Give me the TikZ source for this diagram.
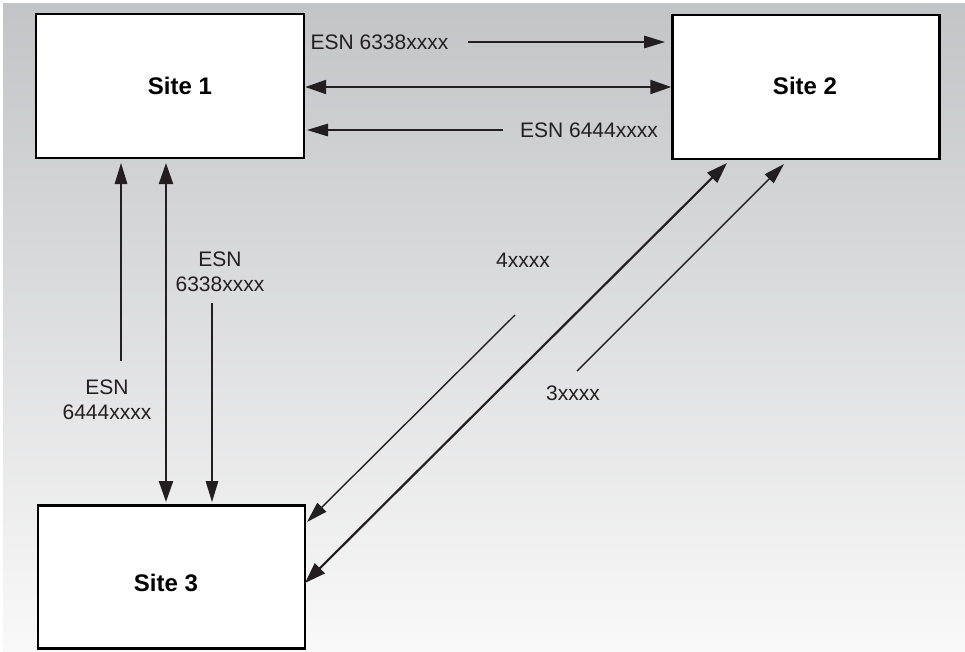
\documentclass[tikz,border=0pt]{standalone}
\usepackage{fontspec}
\setmainfont{Liberation Sans}
\usetikzlibrary{arrows.meta}
\definecolor{ink}{HTML}{231F20}
\definecolor{bgtop}{HTML}{C3C4C7}
\definecolor{bgbot}{HTML}{F9F9F9}
\tikzset{
  site/.style={draw=black, line width=2.4pt, fill=white, inner sep=0pt},
  sitename/.style={font=\fontsize{24}{28}\selectfont\bfseries, inner sep=0pt},
  lbl/.style={text=ink, font=\fontsize{21}{25}\selectfont, inner sep=0pt, align=center},
  thick link/.style={draw=ink, line width=2.2pt, {Triangle[length=21pt,width=14pt]}-{Triangle[length=21pt,width=14pt]}},
  thin link/.style={draw=ink, line width=1.4pt, -{Triangle[length=21pt,width=12.5pt]}},
}
\begin{document}
\begin{tikzpicture}[x=1pt, y=-1pt]
  \useasboundingbox (0,0) rectangle (965,651);
  % shaded backdrop
  \shade[top color=bgtop, bottom color=bgbot] (3,3) rectangle (965,651);

  % sites
  \node[site, minimum width=268pt, minimum height=144pt] (s1) at (170,86) {};
  \node[sitename] at (180,86) {Site 1};
  \node[site, minimum width=267pt, minimum height=144pt] (s2) at (806,87) {};
  \node[sitename] at (805,86) {Site 2};
  \begin{scope}
    \clip (0,0) rectangle (965,651);
    \node[site, minimum width=267pt, minimum height=143pt] (s3) at (171.5,577) {};
  \end{scope}
  \node[sitename] at (166,583) {Site 3};

  % free ends of the one-way links
  \coordinate (h1a) at (468,42);   \coordinate (h1b) at (665,42);
  \coordinate (h3a) at (503,130);  \coordinate (h3b) at (307,130);
  \coordinate (v1a) at (121,361);  \coordinate (v1b) at (121,163);
  \coordinate (v3a) at (212,303);  \coordinate (v3b) at (212,502);
  \coordinate (d1a) at (577,371);  \coordinate (d1b) at (784,164);
  \coordinate (d3a) at (515,315);  \coordinate (d3b) at (307,522);

  % Site 1 <-> Site 2
  \draw[thin link] (h1a) -- (h1b);
  \draw[thick link] (s1.east |- 0,87) -- (s2.west |- 0,87);
  \draw[thin link] (h3a) -- (h3b);
  \node[lbl] at (379.5,42) {ESN 6338xxxx};
  \node[lbl] at (589,130) {ESN 6444xxxx};

  % Site 1 <-> Site 3
  \draw[thin link] (v1a) -- (v1b);
  \draw[thick link] (166,163) -- (166,502);
  \draw[thin link] (v3a) -- (v3b);
  \node[lbl] at (220,272) {ESN\\6338xxxx};
  \node[lbl] at (107,400) {ESN\\6444xxxx};

  % Site 2 <-> Site 3
  \draw[thick link] (727,163) -- (305,583);
  \draw[thin link] (d1a) -- (d1b);
  \draw[thin link] (d3a) -- (d3b);
  \node[lbl] at (523,260) {4xxxx};
  \node[lbl] at (573,393) {3xxxx};
\end{tikzpicture}
\end{document}
